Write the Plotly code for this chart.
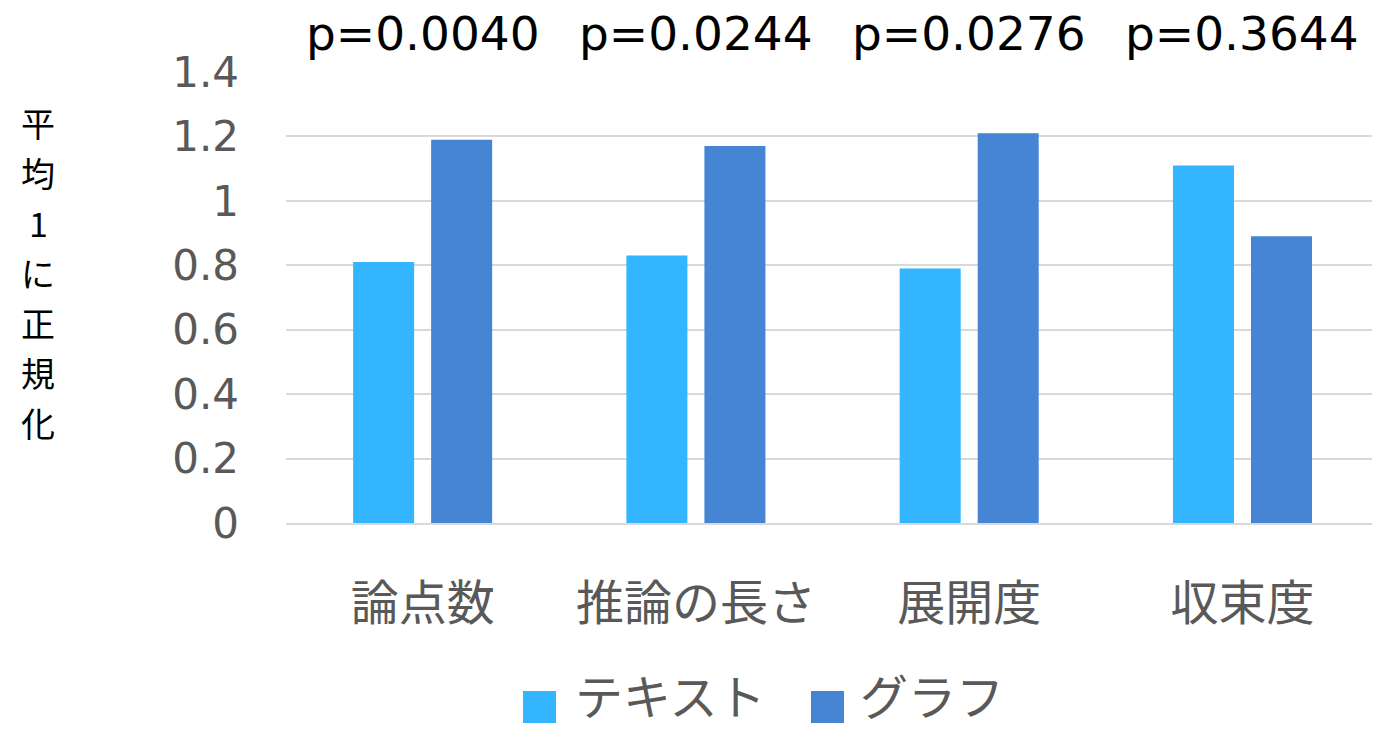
import plotly.graph_objects as go

categories = ["論点数", "推論の長さ", "展開度", "収束度"]
series_names = ["テキスト", "グラフ"]
text_values = [0.81, 0.83, 0.79, 1.11]
graph_values = [1.19, 1.17, 1.21, 0.89]
p_labels = ["p=0.0040", "p=0.0244", "p=0.0276", "p=0.3644"]
y_ticks = [0, 0.2, 0.4, 0.6, 0.8, 1, 1.2, 1.4]
y_tick_text = ["0", "0.2", "0.4", "0.6", "0.8", "1", "1.2", "1.4"]
y_title_chars = ["平", "均", "1", "に", "正", "規", "化"]

colors = ["#33B5FF", "#4585D3"]
FONT = "DejaVu Sans, Noto Sans CJK JP, sans-serif"

fig = go.Figure()
for name, vals, col in zip(series_names, [text_values, graph_values], colors):
    fig.add_trace(go.Bar(x=categories, y=vals, name=name, marker_color=col,
                         marker_line_width=0, showlegend=False))

W, H = 1374, 731
L, R, T, B = 286, 2, 72, 208
pw, ph = W - L - R, H - T - B

def px(x):
    return (x - L) / pw

def py(y):
    return (H - B - y) / ph

annotations = []
for c, p in zip(categories, p_labels):
    annotations.append(dict(x=c, xref="x", y=py(33), yref="paper", text=p,
                            showarrow=False, font=dict(family=FONT, size=47, color="#000000"),
                            xanchor="center", yanchor="middle"))

for i, ch in enumerate(y_title_chars):
    annotations.append(dict(x=px(38), y=py(122 + 50 * i), xref="paper", yref="paper",
                            text=ch, showarrow=False,
                            font=dict(family="Noto Sans CJK JP, DejaVu Sans", size=34, color="#000000"),
                            xanchor="center", yanchor="middle"))

# legend (manual, large swatches)
shapes = []
legend_pos = [(523, 573), (811, 858)]
for (sx, tx), name, col in zip(legend_pos, series_names, colors):
    shapes.append(dict(type="rect", xref="paper", yref="paper",
                       x0=px(sx), x1=px(sx + 33), y0=py(723), y1=py(691),
                       fillcolor=col, line_width=0))
    annotations.append(dict(x=px(tx), y=py(694), xref="paper", yref="paper",
                            text=name, showarrow=False, xanchor="left", yanchor="middle",
                            font=dict(family="Noto Sans CJK JP", size=48, color="#595959")))

fig.update_layout(
    width=W, height=H,
    margin=dict(l=L, r=R, t=T, b=B),
    paper_bgcolor="white", plot_bgcolor="white",
    barmode="group", bargap=0.429, bargroupgap=0.218,
    annotations=annotations, shapes=shapes,
    font=dict(family=FONT, color="#595959"),
)
fig.update_yaxes(range=[0, 1.4], tickvals=y_ticks, ticktext=y_tick_text,
                 showgrid=True, gridcolor="#D9D9D9", gridwidth=1.5,
                 zeroline=False, showline=False, ticks="",
                 tickfont=dict(family="DejaVu Sans", size=42, color="#595959"),
                 ticklabelstandoff=46)
fig.update_xaxes(range=[-0.5, 3.474],
                 showline=True, linecolor="#D9D9D9", linewidth=1.5, ticks="",
                 showgrid=False,
                 tickfont=dict(family="Noto Sans CJK JP", size=48, color="#595959"),
                 ticklabelstandoff=38)

fig.write_html("out.html")
